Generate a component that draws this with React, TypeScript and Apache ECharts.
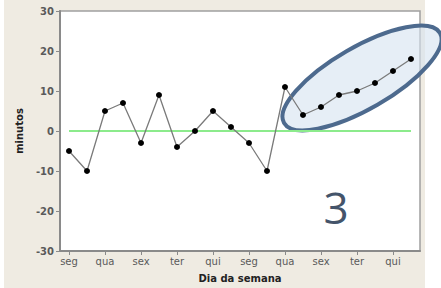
import React, { useEffect, useRef } from "react";
import * as echarts from "echarts";

const days = [
  "seg", "ter", "qua", "qui", "sex",
  "seg", "ter", "qua", "qui", "sex",
  "seg", "ter", "qua", "qui", "sex",
  "seg", "ter", "qua", "qui", "sex",
];
const minutes = [-5, -10, 5, 7, -3, 9, -4, 0, 5, 1, -3, -10, 11, 4, 6, 9, 10, 12, 15, 18];
const reference = days.map(() => 0);
const yTicks = { min: -30, max: 30, interval: 10 };

export default function App() {
  const ref = useRef<HTMLDivElement>(null);
  useEffect(() => {
    if (!ref.current) return;
    const chart = echarts.init(ref.current, undefined, { renderer: "svg" });
    const font = "Verdana, 'DejaVu Sans', sans-serif";
    chart.setOption({
      animation: false,
      backgroundColor: "transparent",
      grid: {
        left: 60,
        right: 21,
        top: 11,
        bottom: 34,
        show: true,
        backgroundColor: "#ffffff",
        borderColor: "#a0a0a0",
        borderWidth: 1.5,
        z: 0,
      },
      xAxis: {
        type: "category",
        data: days,
        boundaryGap: true,
        axisLine: { show: true, onZero: false, lineStyle: { color: "#8a8a8a", width: 2 } },
        axisTick: { show: true, interval: 1, alignWithLabel: true, length: 4, lineStyle: { color: "#8a8a8a" } },
        axisLabel: { interval: 1, color: "#5a5a5a", fontSize: 10, fontFamily: font, margin: 5 },
        splitLine: { show: false },
        name: "Dia da semana",
        nameLocation: "middle",
        nameGap: 22,
        nameTextStyle: { fontWeight: "bold", fontSize: 10, color: "#222", fontFamily: font },
      },
      yAxis: {
        type: "value",
        min: yTicks.min,
        max: yTicks.max,
        interval: yTicks.interval,
        axisLine: { show: true, lineStyle: { color: "#8a8a8a", width: 2 } },
        axisTick: { show: true, length: 4, lineStyle: { color: "#8a8a8a" } },
        axisLabel: { color: "#5a5a5a", fontSize: 10, fontFamily: font, fontWeight: "bold", margin: 6 },
        splitLine: { show: false },
        name: "minutos",
        nameLocation: "middle",
        nameGap: 36,
        nameTextStyle: { fontWeight: "bold", fontSize: 10, color: "#222", fontFamily: font },
      },
      graphic: [
        {
          type: "ellipse",
          z: 1,
          x: 362,
          y: 78,
          rotation: Math.PI / 6,
          shape: { cx: 0, cy: 0, rx: 90, ry: 31 },
          style: { fill: "rgba(214,226,240,0.6)", stroke: "#4d6a8e", lineWidth: 4 },
        },
        {
          type: "text",
          z: 3,
          x: 336,
          y: 207,
          style: {
            text: "3",
            fontSize: 44,
            fontFamily: "'Open Sans', 'Liberation Sans', sans-serif",
            fill: "#44546a",
            textAlign: "center",
            textVerticalAlign: "middle",
          },
        },
      ],
      series: [
        {
          type: "line",
          data: reference,
          symbol: "none",
          z: 2,
          lineStyle: { color: "#8ceb8c", width: 2 },
          silent: true,
        },
        {
          type: "line",
          data: minutes,
          symbol: "circle",
          symbolSize: 6,
          z: 4,
          itemStyle: { color: "#000000" },
          lineStyle: { color: "#7a7a7a", width: 1.3 },
        },
      ],
    });
    return () => chart.dispose();
  }, []);
  return (
    <div style={{ position: "fixed", left: 0, top: 0, width: 441, height: 288, background: "#ffffff" }}>
      <div style={{ position: "absolute", left: 4, top: 0, width: 421, height: 288, background: "#efebe2" }} />
      <div ref={ref} style={{ position: "absolute", left: 0, top: 0, width: 441, height: 288 }} />
    </div>
  );
}
